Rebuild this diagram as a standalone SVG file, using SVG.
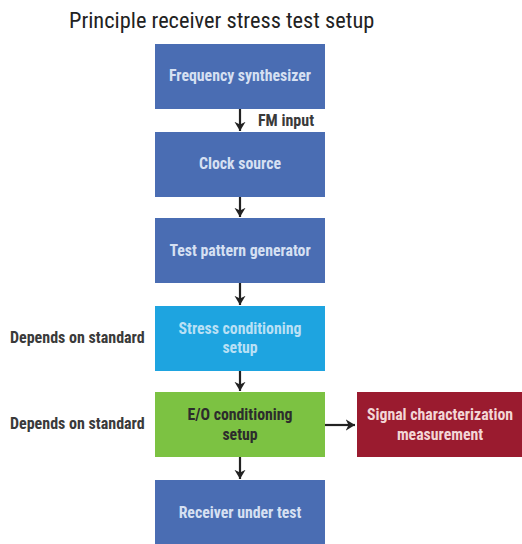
<svg xmlns="http://www.w3.org/2000/svg" width="522" height="544" viewBox="0 0 522 544">
  <style>
    text { font-family: "Liberation Sans Narrow", "Roboto Condensed", "Liberation Sans", sans-serif; }
    .title { font-size: 22.4px; fill: #222; }
    .lbl { font-size: 16px; fill: #3a3a3a; font-weight: bold; }
    .bt { font-size: 15.8px; font-weight: bold; text-anchor: middle; }
    .blue { fill: #4a6db3; }
    .blue-t { fill: #d6e0f2; }
    .wire { stroke: #222; stroke-width: 2.2; fill: none; }
  </style>
  <defs>
    <!-- open-backed arrowhead shared by every connector -->
    <marker id="ah" viewBox="0 0 10 12" refX="10" refY="6" markerWidth="4.2" markerHeight="5.4" orient="auto" markerUnits="strokeWidth">
      <path d="M0,0 L10,6 L0,12 L3,6 Z" fill="#222"/>
    </marker>
  </defs>
  <rect width="522" height="544" fill="#fff"/>
  <text class="title" x="69" y="28">Principle receiver stress test setup</text>

  <g id="freq-synth">
    <rect class="blue" x="155" y="44" width="170" height="65"/>
    <text class="bt blue-t" x="240" y="81">Frequency synthesizer</text>
  </g>
  <g id="clock-source">
    <rect class="blue" x="155" y="132" width="170" height="65"/>
    <text class="bt blue-t" x="240" y="169">Clock source</text>
  </g>
  <g id="pattern-gen">
    <rect class="blue" x="155" y="218" width="170" height="65"/>
    <text class="bt blue-t" x="240" y="256">Test pattern generator</text>
  </g>
  <g id="stress-cond">
    <rect x="155" y="306" width="170" height="65" fill="#1ea4e0"/>
    <text class="bt" x="240" y="334" fill="#b9e0f5">Stress conditioning</text>
    <text class="bt" x="240" y="353" fill="#b9e0f5">setup</text>
    <text class="lbl" x="10" y="343">Depends on standard</text>
  </g>
  <g id="eo-cond">
    <rect x="155" y="392" width="170" height="65" fill="#7cc242"/>
    <text class="bt" x="240" y="420" fill="#2c2c2c">E/O conditioning</text>
    <text class="bt" x="240" y="440" fill="#2c2c2c">setup</text>
    <text class="lbl" x="10" y="429">Depends on standard</text>
  </g>
  <g id="signal-meas">
    <rect x="357" y="392" width="165" height="65" fill="#9a1b2f"/>
    <text class="bt" x="440" y="420" fill="#f3d6d6">Signal characterization</text>
    <text class="bt" x="440" y="440" fill="#f3d6d6">measurement</text>
  </g>
  <g id="receiver">
    <rect class="blue" x="155" y="480" width="170" height="66"/>
    <text class="bt blue-t" x="240" y="518">Receiver under test</text>
  </g>

  <g id="connectors">
    <line class="wire" x1="240" y1="109" x2="240" y2="131" marker-end="url(#ah)"/>
    <text class="lbl" x="258" y="126" fill="#222">FM input</text>
    <line class="wire" x1="240" y1="197" x2="240" y2="217" marker-end="url(#ah)"/>
    <line class="wire" x1="240" y1="283" x2="240" y2="305" marker-end="url(#ah)"/>
    <line class="wire" x1="240" y1="371" x2="240" y2="391" marker-end="url(#ah)"/>
    <line class="wire" x1="240" y1="457" x2="240" y2="479" marker-end="url(#ah)"/>
    <line class="wire" x1="325" y1="425" x2="355" y2="425" marker-end="url(#ah)"/>
  </g>
</svg>
